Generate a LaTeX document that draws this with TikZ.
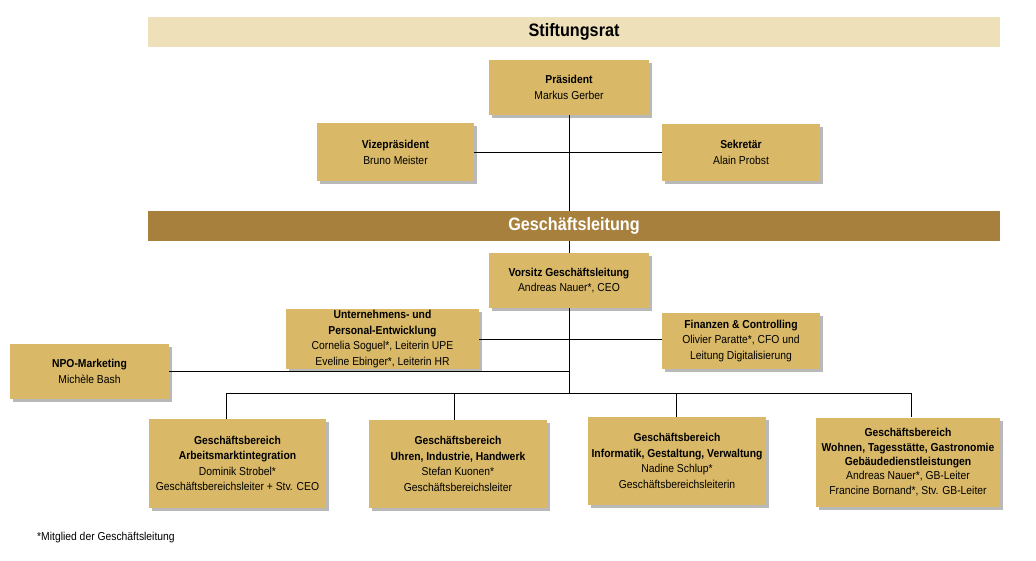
\documentclass[tikz,border=0pt]{standalone}
\usepackage{fontspec}
\setmainfont{Liberation Sans}[FakeStretch=0.9]
\usetikzlibrary{shadows}

\definecolor{ratbeige}{RGB}{238,224,184}
\definecolor{glbraun}{RGB}{167,128,61}
\definecolor{boxgold}{RGB}{217,185,103}

\begin{document}
\begin{tikzpicture}[x=1pt, y=-1pt, thin,
		box node/.style={rectangle, fill=boxgold, align=center, inner sep=1pt,
			font=\fontsize{11.5}{15.5}\selectfont,
			drop shadow={shadow xshift=2.5pt, shadow yshift=-3pt, fill=black!50, opacity=.55}},
		bar node/.style={rectangle, minimum width=852pt, minimum height=30pt,
			font=\fontsize{18}{20}\selectfont\bfseries}]
		
		\useasboundingbox (0,0) rectangle (1036,561);
		
		% Stiftungsrat
		\node[bar node, fill=ratbeige] (rat) at (574,32) {Stiftungsrat};
		\node[box node, minimum width=160pt, minimum height=55pt] (praes) at (569,87.5)
		{\textbf{Präsident}\\Markus Gerber};
		\node[box node, minimum width=157pt, minimum height=58pt] (vize) at (395.5,152.5)
		{\textbf{Vizepräsident}\\Bruno Meister};
		\node[box node, minimum width=158pt, minimum height=57pt] (sekr) at (741,152.5)
		{\textbf{Sekretär}\\Alain Probst};
		
		% Geschaeftsleitung
		\node[bar node, fill=glbraun, text=white] (gl) at (574,226) {Geschäftsleitung};
		\node[box node, minimum width=160pt, minimum height=55pt] (vorsitz) at (569,280.5)
		{\textbf{Vorsitz Geschäftsleitung}\\Andreas Nauer*, CEO};
		\node[box node, minimum width=193pt, minimum height=60pt] (upe) at (382.5,339)
		{\textbf{Unternehmens- und}\\\textbf{Personal-Entwicklung}\\Cornelia Soguel*, Leiterin UPE\\Eveline Ebinger*, Leiterin HR};
		\node[box node, minimum width=158pt, minimum height=56pt] (fin) at (741,341)
		{\textbf{Finanzen \& Controlling}\\Olivier Paratte*, CFO und\\Leitung Digitalisierung};
		\node[box node, minimum width=159pt, minimum height=55pt] (npo) at (89.5,371.5)
		{\textbf{NPO-Marketing}\\Michèle Bash};
		
		% Geschaeftsbereiche
		\node[box node, minimum width=177pt, minimum height=89pt] (gb1) at (237.5,463.5)
		{\textbf{Geschäftsbereich}\\\textbf{Arbeitsmarktintegration}\\Dominik Strobel*\\Geschäftsbereichsleiter + Stv. CEO};
		\node[box node, minimum width=178pt, minimum height=88pt] (gb2) at (458,464)
		{\textbf{Geschäftsbereich}\\\textbf{Uhren, Industrie, Handwerk}\\Stefan Kuonen*\\Geschäftsbereichsleiter};
		\node[box node, minimum width=178pt, minimum height=88pt] (gb3) at (677,461)
		{\textbf{Geschäftsbereich}\\\textbf{Informatik, Gestaltung, Verwaltung}\\Nadine Schlup*\\Geschäftsbereichsleiterin};
		\node[box node, minimum width=184pt, minimum height=89pt,
			font=\fontsize{11.5}{14.3}\selectfont] (gb4) at (908,462)
		{\textbf{Geschäftsbereich}\\\textbf{Wohnen, Tagesstätte, Gastronomie}\\\textbf{Gebäudedienstleistungen}\\Andreas Nauer*, GB-Leiter\\Francine Bornand*, Stv. GB-Leiter};
		
		\node[anchor=west, inner sep=0pt, font=\fontsize{11.5}{12}\selectfont] (fuss) at (37,538)
		{*Mitglied der Geschäftsleitung};
		
		% Verbindungen
		\coordinate (bus) at (569,393);
		\coordinate (b1) at (226,393);
		\coordinate (b2) at (454,393);
		\coordinate (b3) at (676,393);
		\coordinate (b4) at (911,393);
		
		\draw (praes.south) -- (praes.south |- gl.north);
		\draw (vize.east) -- (sekr.west);
		\draw (gl.south -| vorsitz.south) -- (vorsitz.north);
		\draw (vorsitz.south) -- (bus);
		\draw (upe.east) -- (upe.east -| fin.west);
		\draw (npo.east) -- (npo.east -| bus);
		\draw (b1) -- (b4);
		\draw (b1) -- (b1 |- gb1.north);
		\draw (b2) -- (b2 |- gb2.north);
		\draw (b3) -- (b3 |- gb3.north);
		\draw (b4) -- (b4 |- gb4.north);
		\end{tikzpicture}
\end{document}
